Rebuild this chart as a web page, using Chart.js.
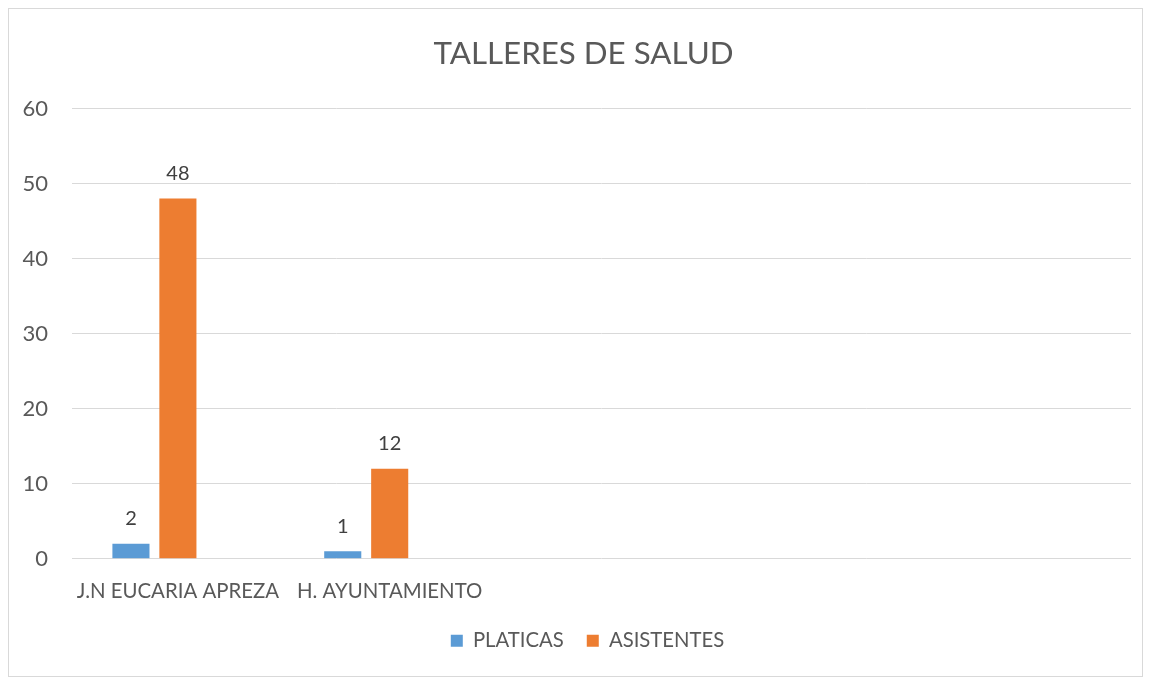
<!DOCTYPE html>
<html><head><meta charset="utf-8">
<script src="https://cdn.jsdelivr.net/npm/chart.js@4/dist/chart.umd.min.js"></script>
<style>
html,body{margin:0;padding:0;background:#fff;}
#wrap{position:absolute;left:0;top:0;width:1153px;height:681px;}
#frame{position:absolute;left:8px;top:8px;width:1135px;height:669px;border:1px solid #d9d9d9;box-sizing:border-box;}
canvas{position:absolute;left:0;top:0;}
</style></head>
<body>
<div id="wrap"><div id="frame"></div><canvas id="c" width="1153" height="681"></canvas></div>
<script>
const categories = ["J.N EUCARIA APREZA", "H. AYUNTAMIENTO", "", "", ""];
const platicas = [2, 1, null, null, null];
const asistentes = [48, 12, null, null, null];
const serie3 = [null, null, null, null, null];
const yTicks = [0, 10, 20, 30, 40, 50, 60];
const title = "TALLERES DE SALUD";

const FONT = "Lato, 'Open Sans', sans-serif";
const TXT = "#595959";

const valueLabels = {
  id: 'valueLabels',
  afterDatasetsDraw(chart) {
    const ctx = chart.ctx;
    ctx.save();
    ctx.font = "20px " + FONT;
    ctx.fillStyle = "#404040";
    ctx.textAlign = "center";
    ctx.textBaseline = "middle";
    chart.data.datasets.forEach((ds, i) => {
      if (i > 1) return;
      const meta = chart.getDatasetMeta(i);
      meta.data.forEach((bar, j) => {
        const v = ds.data[j];
        if (v === null || v === undefined) return;
        ctx.fillText(String(v), bar.x, bar.y - 25);
      });
    });
    ctx.restore();
  }
};

const shiftBoxes = {
  id: 'shiftBoxes',
  afterLayout(chart) {
    if (chart.titleBlock) { chart.titleBlock.left += 18; chart.titleBlock.right += 18; }
    if (chart.legend) { chart.legend.left += 22; chart.legend.right += 22; }
  }
};

new Chart(document.getElementById('c'), {
  type: 'bar',
  data: {
    labels: categories,
    datasets: [
      {label: "PLATICAS", data: platicas, backgroundColor: "#5B9BD5"},
      {label: "ASISTENTES", data: asistentes, backgroundColor: "#ED7D31"},
      {label: "Serie3", data: serie3, backgroundColor: "#A5A5A5"}
    ]
  },
  options: {
    responsive: false,
    animation: false,
    devicePixelRatio: 1,
    categoryPercentage: 0.665,
    barPercentage: 0.79,
    layout: {padding: {left: 0, right: 22, top: 0, bottom: 20}},
    plugins: {
      title: {display: true, text: title, color: TXT, font: {family: FONT, size: 31.3, weight: 'normal'}, padding: {top: 35, bottom: 36}},
      legend: {position: 'bottom', labels: {filter: it => it.datasetIndex < 2, color: TXT, font: {family: FONT, size: 20.3}, boxWidth: 12, boxHeight: 12, padding: 23}},
      tooltip: {enabled: false}
    },
    scales: {
      x: {
        grid: {display: false, drawTicks: false},
        border: {display: false},
        ticks: {color: TXT, font: {family: FONT, size: 20.4}, padding: 20, maxRotation: 0, autoSkip: false},
        afterFit: s => { s.height = 49; }
      },
      y: {
        min: 0, max: 60,
        afterBuildTicks: s => { s.ticks = yTicks.map(v => ({value: v})); },
        grid: {color: "#d9d9d9", drawTicks: false, lineWidth: 1},
        border: {display: false},
        ticks: {color: TXT, font: {family: FONT, size: 22}, padding: 24},
        afterFit: s => { s.width = 72; }
      }
    }
  },
  plugins: [shiftBoxes, valueLabels]
});
</script>
</body></html>
